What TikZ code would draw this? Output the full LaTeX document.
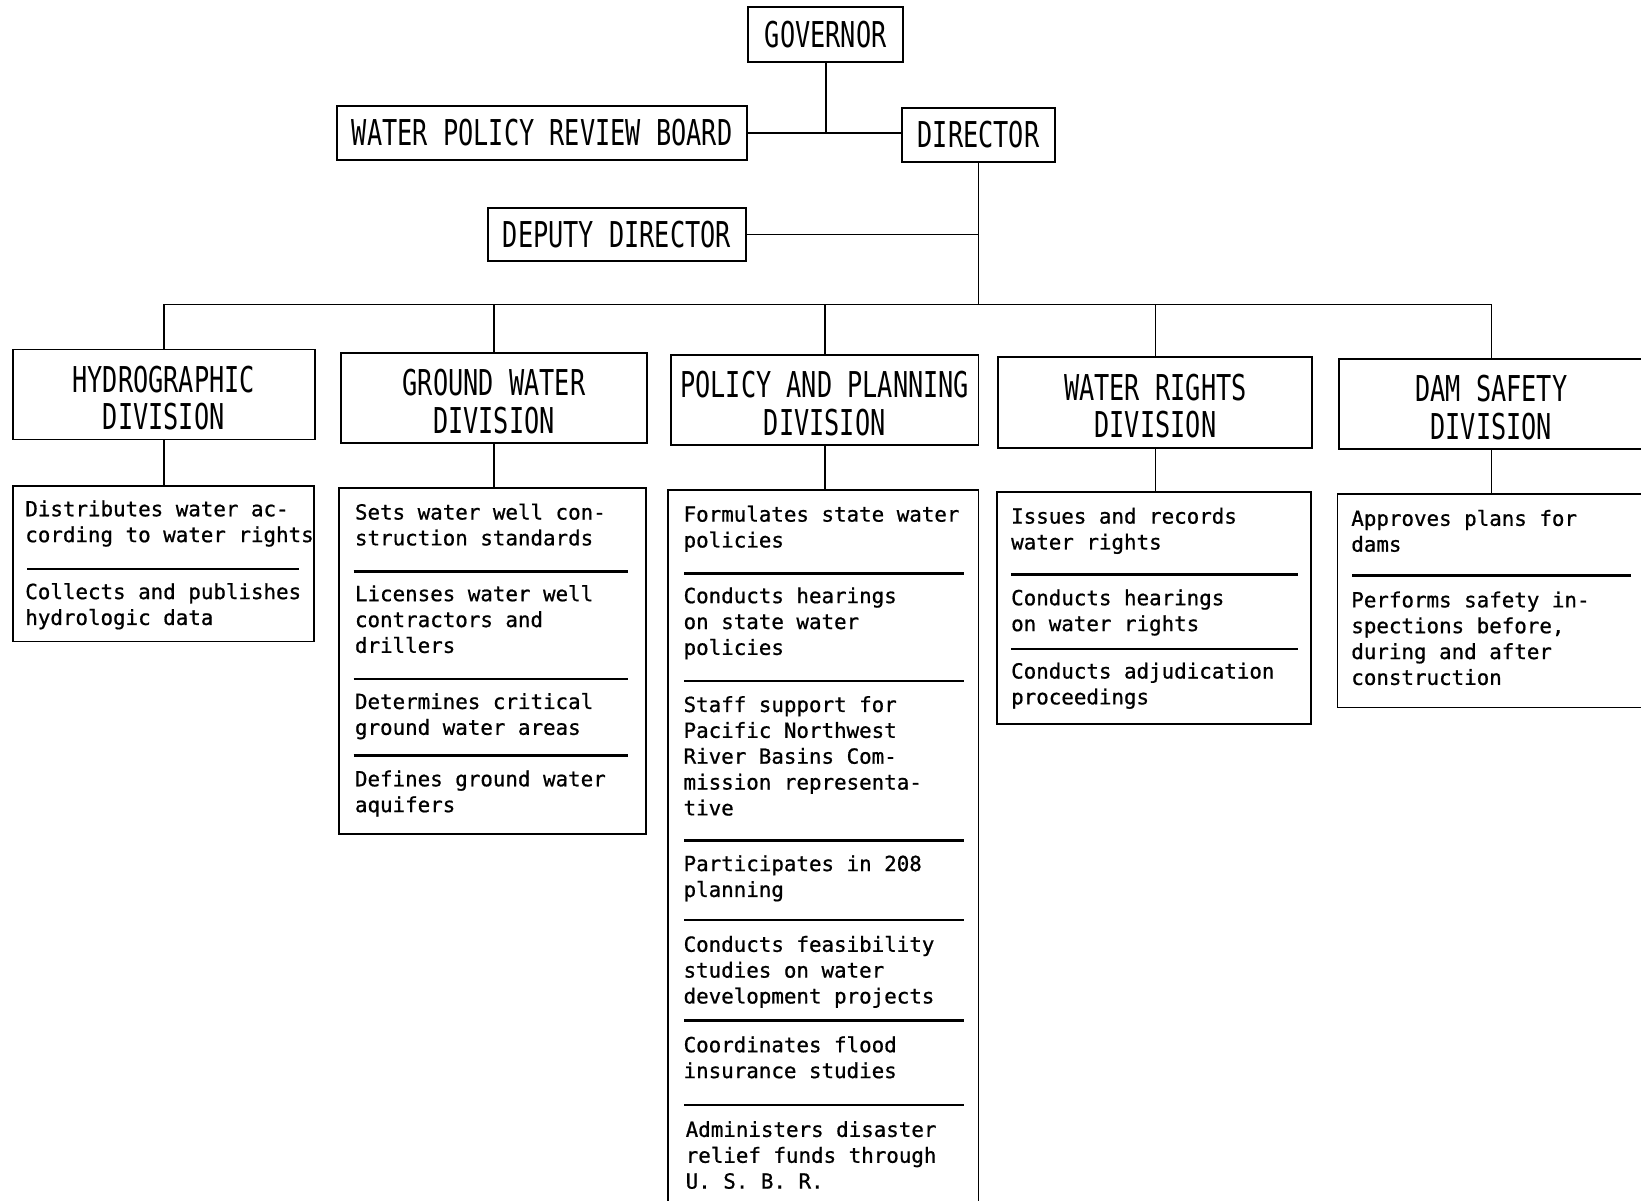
\documentclass[tikz,border=0pt]{standalone}
\usepackage{fontspec}
\newfontfamily\headfont[FakeStretch=0.71]{DejaVu Sans Mono}
\newfontfamily\bodyfont[FakeBold=0.8]{DejaVu Sans Mono}
\usetikzlibrary{positioning}

% two-line division title, first line pushed down a little
\newcommand{\divtitle}[2]{\rule{0pt}{32pt}#1\\#2}

\begin{document}
\begin{tikzpicture}[x=1pt,y=-1pt,
  headbox/.style={draw,line width=1.8pt,inner sep=0pt,align=center,font=\headfont\fontsize{34}{36}\selectfont},
  descbox/.style={draw,line width=1.8pt,inner sep=0pt},
  item/.style={anchor=north west,inner sep=0pt,align=left,font=\bodyfont\fontsize{19.9}{24.7}\selectfont},
  link/.style={line width=1.6pt},
  sepline/.style={line width=2.2pt}]

\useasboundingbox[fill=white] (0,0) rectangle (1568,1147);

% Governor, board and director
\node[headbox,minimum width=148pt,minimum height=52pt] (gov) at (789,33) {GOVERNOR};
\node[headbox,minimum width=392pt,minimum height=51pt] (board) at (518,127) {WATER POLICY REVIEW BOARD};
\node[headbox,minimum width=146pt,minimum height=51pt] (dir) at (935,129) {DIRECTOR};
\node[headbox,minimum width=247pt,minimum height=50pt] (deputy) at (589.5,224) {DEPUTY DIRECTOR};
\coordinate (bus) at (935,291);

\draw[link] (board.east) -- (board.east -| dir.west);
\draw[link] (gov.south) -- (gov.south |- board.east);
\draw[link] (dir.south) -- (bus);
\draw[link] (deputy.east) -- (deputy.east -| dir.south);

% Divisions
\node[headbox,minimum width=289pt,minimum height=86pt] (hyd) at (156.5,377) {\divtitle{HYDROGRAPHIC}{DIVISION}};
\node[headbox,minimum width=292pt,minimum height=86pt] (grd) at (472,380) {\divtitle{GROUND WATER}{DIVISION}};
\node[headbox,minimum width=294pt,minimum height=86pt] (pol) at (788,382) {\divtitle{POLICY AND PLANNING}{DIVISION}};
\node[headbox,minimum width=300pt,minimum height=87pt] (wr) at (1104,384.5) {\divtitle{WATER RIGHTS}{DIVISION}};
\node[headbox,minimum width=292pt,minimum height=86pt] (dam) at (1425,386) {\divtitle{DAM SAFETY}{DIVISION}};

\draw[link] (hyd.north) |- (bus) -| (dam.north);
\draw[link] (grd.north) -- (grd.north |- bus);
\draw[link] (pol.north) -- (pol.north |- bus);
\draw[link] (wr.north) -- (wr.north |- bus);

% Duty boxes
\node[descbox,minimum width=288pt,minimum height=149pt] (hyddesc) at (156,538.5) {};
\node[descbox,minimum width=293pt,minimum height=331pt] (grddesc) at (470.5,631.5) {};
\node[descbox,minimum width=297pt,minimum height=692pt] (poldesc) at (786.5,814) {};
\node[descbox,minimum width=300pt,minimum height=222pt] (wrdesc) at (1103,581) {};
\node[descbox,minimum width=294pt,minimum height=204pt] (damdesc) at (1425,574) {};

\draw[link] (hyd.south) -- (hyd.south |- hyddesc.north);
\draw[link] (grd.south) -- (grd.south |- grddesc.north);
\draw[link] (pol.south) -- (pol.south |- poldesc.north);
\draw[link] (wr.south) -- (wr.south |- wrdesc.north);
\draw[link] (dam.south) -- (dam.south |- damdesc.north);

% Hydrographic duties
\node[item] (hyd1) at (24,478) {Distributes water ac-\\cording to water rights};
\node[item] (hyd2) at (24,557) {Collects and publishes\\hydrologic data};
\draw[sepline] (26,544) -- (286,544);

% Ground water duties
\node[item] (grd1) at (339,481) {Sets water well con-\\struction standards};
\node[item] (grd2) at (339,559) {Licenses water well\\contractors and\\drillers};
\node[item] (grd3) at (339,662) {Determines critical\\ground water areas};
\node[item] (grd4) at (339,736) {Defines ground water\\aquifers};
\draw[sepline] (338,546) -- (600,546);
\draw[sepline] (338,649) -- (600,649);
\draw[sepline] (338,722) -- (600,722);

% Policy and planning duties
\node[item] (pol1) at (653,483) {Formulates state water\\policies};
\node[item] (pol2) at (653,561) {Conducts hearings\\on state water\\policies};
\node[item] (pol3) at (653,665) {Staff support for\\Pacific Northwest\\River Basins Com-\\mission representa-\\tive};
\node[item] (pol4) at (653,817) {Participates in 208\\planning};
\node[item] (pol5) at (653,894) {Conducts feasibility\\studies on water\\development projects};
\node[item] (pol6) at (653,990) {Coordinates flood\\insurance studies};
\node[item] (pol7) at (655,1071) {Administers disaster\\relief funds through\\U. S. B. R.};
\draw[sepline] (654,548) -- (921,548);
\draw[sepline] (654,651) -- (921,651);
\draw[sepline] (654,803) -- (921,803);
\draw[sepline] (654,879) -- (921,879);
\draw[sepline] (654,975) -- (921,975);
\draw[sepline] (654,1056) -- (921,1056);

% Water rights duties
\node[item] (wr1) at (966,485) {Issues and records\\water rights};
\node[item] (wr2) at (966,563) {Conducts hearings\\on water rights};
\node[item] (wr3) at (966,633) {Conducts adjudication\\proceedings};
\draw[sepline] (966,549) -- (1240,549);
\draw[sepline] (966,620) -- (1240,620);

% Dam safety duties
\node[item] (dam1) at (1291,487) {Approves plans for\\dams};
\node[item] (dam2) at (1291,565) {Performs safety in-\\spections before,\\during and after\\construction};
\draw[sepline] (1292,550) -- (1558,550);

\end{tikzpicture}
\end{document}
